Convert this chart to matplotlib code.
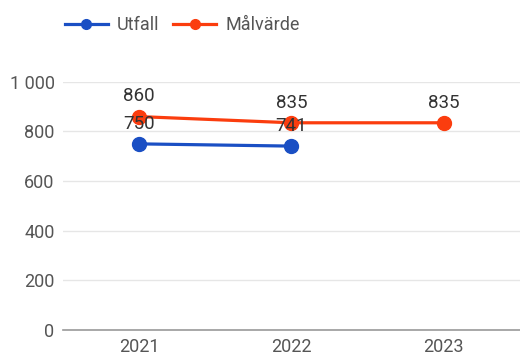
import matplotlib
matplotlib.use("Agg")
import matplotlib.pyplot as plt

plt.rcParams['font.family'] = ['Roboto', 'DejaVu Sans']

years = ['2021', '2022', '2023']
utfall = [750, 741]
malvarde = [860, 835, 835]
yticks = [0, 200, 400, 600, 800, 1000]
ytick_labels = ['0', '200', '400', '600', '800', '1 000']

blue = '#1a4fc4'
red = '#fb3d0e'

fig = plt.figure(figsize=(5.2, 3.59), dpi=100)
ax = fig.add_axes([0.121, 0.081, 0.879, 0.691])

x_u = list(range(len(utfall)))
x_m = list(range(len(malvarde)))
ax.plot(x_u, utfall, color=blue, lw=2.3, marker='o', ms=10, label='Utfall', zorder=3, clip_on=False)
ax.plot(x_m, malvarde, color=red, lw=2.3, marker='o', ms=10, label='Målvärde', zorder=4, clip_on=False)

for x, v in zip(x_u, utfall):
    ax.annotate(str(v), (x, v), xytext=(0, 8), textcoords='offset points',
                ha='center', va='bottom', fontsize=13.5, color='#333333', zorder=5)
for x, v in zip(x_m, malvarde):
    ax.annotate(str(v), (x, v), xytext=(0, 8), textcoords='offset points',
                ha='center', va='bottom', fontsize=13.5, color='#333333', zorder=5)

ax.set_xlim(-0.5, 2.5)
ax.set_ylim(0, 1000)
ax.set_xticks(range(len(years)))
ax.set_xticklabels(years)
ax.set_yticks(yticks)
ax.set_yticklabels(ytick_labels)
ax.grid(axis='y', color='#e6e6e6', lw=1)
ax.set_axisbelow(True)
for s in ['top', 'right', 'left']:
    ax.spines[s].set_visible(False)
ax.spines['bottom'].set_color('#999999')
ax.spines['bottom'].set_linewidth(1.2)
ax.tick_params(axis='x', length=0, pad=6, labelsize=13, labelcolor='#555555')
ax.tick_params(axis='y', length=0, pad=6, labelsize=13, labelcolor='#555555')

fig.legend(loc='upper left', bbox_to_anchor=(0.093, 1.0), ncol=2, frameon=False,
           fontsize=13, labelcolor='#555555', handlelength=2.4, handletextpad=0.5,
           columnspacing=0.75, markerscale=0.7)

fig.savefig('out.png', dpi=100)
